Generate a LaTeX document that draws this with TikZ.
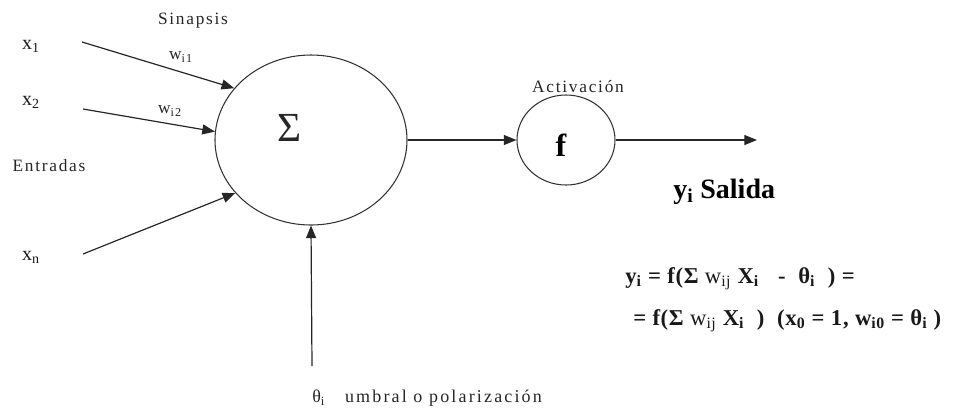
\documentclass[tikz,border=0pt]{standalone}
\usepackage{fontspec}
\setmainfont{Liberation Serif}
\newfontfamily\spacedfont[LetterSpace=10]{Liberation Serif}
\newfontfamily\widefont[LetterSpace=12]{Liberation Serif}
\newfontfamily\eqfont[LetterSpace=3]{Liberation Serif}
\usetikzlibrary{shapes.geometric,arrows.meta}
\begin{document}
\begin{tikzpicture}[x=0.75pt,y=-0.75pt,
  lbl/.style={inner sep=0pt, text=black!85, font=\fontsize{13}{15}\spacedfont},
  xlbl/.style={inner sep=0pt, text=black!90, font=\fontsize{15}{17}\selectfont},
  big/.style={inner sep=0pt, text=black!90, font=\fontsize{17}{20}\eqfont\bfseries},
  conn/.style={draw=black!85, line width=0.9pt, -{Triangle[length=9.5pt,width=7.5pt]}},
  neuron/.style={draw=black!80, line width=0.8pt, ellipse, inner sep=0pt}]
\useasboundingbox (0,0) rectangle (957,419);
% nodes
\node[neuron, minimum width=144pt, minimum height=127.5pt] (sum) at (311,140) {};
\node[inner sep=0pt, text=black!85, font=\fontsize{31}{34}\selectfont] (sigma) at (290,128) {Σ};
\node[neuron, minimum width=73.5pt, minimum height=67.5pt] (f) at (566,140) {};
\node[inner sep=0pt, font=\fontsize{24}{28}\bfseries] (flbl) at (561,145) {f};
% labels
\node[lbl] (sinapsis) at (193,21) {Sinapsis};
\node[xlbl] (x1) at (31,46) {x\textsubscript{1}};
\node[xlbl] (x2) at (31,102) {x\textsubscript{2}};
\node[lbl] (entradas) at (49,166) {Entradas};
\node[xlbl] (xn) at (31,257) {x\textsubscript{n}};
\node[lbl] (w1) at (181,57) {w\textsubscript{i1}};
\node[lbl] (w2) at (170,111) {w\textsubscript{i2}};
\node[lbl] (activ) at (578,87) {Activación};
\node[inner sep=0pt, font=\fontsize{21}{24}\bfseries, anchor=west] (salida) at (673,192) {y\textsubscript{i} Salida};
\node[big, anchor=base west] (eq1) at (625,283) {y\textsubscript{i} = f(Σ {\mdseries w\textsubscript{ij}} X\textsubscript{i} \ \ - \ θ\textsubscript{i} \ ) =};
\node[big, anchor=base west] (eq2) at (633,325) {= f(Σ {\mdseries w\textsubscript{ij}} X\textsubscript{i} \ )\ \ (x\textsubscript{0} = 1, w\textsubscript{i0} = θ\textsubscript{i} )};
\node[inner sep=0pt, text=black!85, font=\fontsize{13.5}{15}\widefont, anchor=west] (umbral) at (312,398) {θ\textsubscript{i} \ \ umbral o polarización};
% connector ends
\coordinate (s1) at (82,42);
\coordinate (s2) at (83,109);
\coordinate (sn) at (83,254);
\coordinate (sb) at (312,366);
\coordinate (out) at (757,140);
% connectors
\draw[conn] (s1) -- (sum.146);
\draw[conn] (s2) -- (sum.175);
\draw[conn] (sn) -- (sum.215);
\draw[conn] (sb) -- (sum.south);
\draw[conn] (sum.east) -- (f.west);
\draw[conn] (f.east) -- (out);
\end{tikzpicture}
\end{document}
